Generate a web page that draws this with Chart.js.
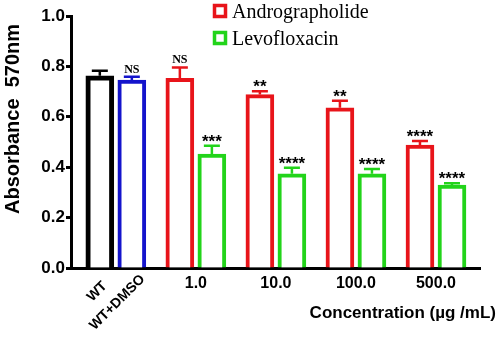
<!DOCTYPE html>
<html>
<head>
<meta charset="utf-8">
<script src="https://cdn.jsdelivr.net/npm/chart.js@4.4.1/dist/chart.umd.min.js"></script>
<style>
  html, body { margin: 0; padding: 0; background: #fff; }
</style>
</head>
<body>
<canvas id="grafico" width="498" height="337"></canvas>
<script>
// controles
const controles = ['WT', 'WT+DMSO'];
const controlX = [0, 2];
const controlMedia = [0.763, 0.746];
const controlError = [0.783, 0.759];
const controlSig = ['', 'NS'];

// tratamientos
const concentraciones = ['1.0', '10.0', '100.0', '500.0'];
const androX = [5, 10, 15, 20];
const levoX = [7, 12, 17, 22];
const androMedia = [0.753, 0.688, 0.636, 0.488];
const androError = [0.796, 0.701, 0.664, 0.504];
const androSig = ['NS', '**', '**', '****'];
const levoMedia = [0.452, 0.374, 0.374, 0.329];
const levoError = [0.485, 0.398, 0.393, 0.336];
const levoSig = ['***', '****', '****', '****'];

const yTicks = [0, 0.2, 0.4, 0.6, 0.8, 1.0];
const tituloY = 'Absorbance  570nm';
const tituloX = 'Concentration (\u00b5g /mL)';

const SANS = '"Liberation Sans", Arial, sans-serif';
const SERIF = '"Liberation Serif", "Times New Roman", serif';

function puntos(xs, ys) {
  return xs.map((x, i) => ({ x: x, y: ys[i] }));
}

const datasets = [
  { label: controles[0], data: puntos([controlX[0]], [controlMedia[0]]), borderColor: '#000000',
    errores: [controlError[0]], sig: [controlSig[0]], borderWidth: 5 },
  { label: controles[1], data: puntos([controlX[1]], [controlMedia[1]]), borderColor: '#1414cc',
    errores: [controlError[1]], sig: [controlSig[1]] },
  { label: 'Andrographolide', data: puntos(androX, androMedia), borderColor: '#e8141a',
    errores: androError, sig: androSig },
  { label: 'Levofloxacin', data: puntos(levoX, levoMedia), borderColor: '#22d41a',
    errores: levoError, sig: levoSig }
];
datasets.forEach(d => {
  d.backgroundColor = '#ffffff';
  if (!d.borderWidth) d.borderWidth = 4;
});

const extras = {
  id: 'extras',
  afterDatasetsDraw(chart) {
    const ctx = chart.ctx;
    const x = chart.scales.x, y = chart.scales.y;
    ctx.save();
    // barras de error y significancia
    chart.data.datasets.forEach(ds => {
      ds.data.forEach((p, i) => {
        const px = x.getPixelForValue(p.x);
        const top = y.getPixelForValue(p.y);
        const err = y.getPixelForValue(ds.errores[i]);
        ctx.strokeStyle = ds.borderColor;
        ctx.lineWidth = 2.5;
        ctx.beginPath();
        ctx.moveTo(px, top);
        ctx.lineTo(px, err);
        ctx.moveTo(px - 8, err);
        ctx.lineTo(px + 8, err);
        ctx.stroke();
        const s = ds.sig[i];
        if (!s) return;
        ctx.fillStyle = '#000';
        ctx.textAlign = 'center';
        ctx.textBaseline = 'alphabetic';
        if (s === 'NS') {
          ctx.font = 'bold 12px ' + SERIF;
          ctx.fillText(s, px, err - 4);
        } else {
          ctx.font = 'bold 17px ' + SANS;
          ctx.fillText(s, px, err + 1);
        }
      });
    });
    ctx.restore();
  },
  afterDraw(chart) {
    const ctx = chart.ctx;
    const x = chart.scales.x;
    const base = chart.chartArea.bottom;
    ctx.save();
    ctx.fillStyle = '#000';
    // etiquetas de controles (giradas)
    ctx.font = 'bold 14px ' + SANS;
    ctx.textAlign = 'right';
    ctx.textBaseline = 'middle';
    const offs = [[5, 16], [11, 9]];
    controles.forEach((c, i) => {
      ctx.save();
      ctx.translate(x.getPixelForValue(controlX[i]) + offs[i][0], base + offs[i][1]);
      ctx.rotate(-Math.PI / 4);
      ctx.fillText(c, 0, 0);
      ctx.restore();
    });
    // etiquetas de concentraciones
    ctx.font = 'bold 16px ' + SANS;
    ctx.textAlign = 'center';
    ctx.textBaseline = 'alphabetic';
    concentraciones.forEach((c, i) => {
      const px = (x.getPixelForValue(androX[i]) + x.getPixelForValue(levoX[i])) / 2;
      ctx.fillText(c, px, base + 20);
    });
    // titulo eje x
    ctx.font = 'bold 17px ' + SANS;
    ctx.textAlign = 'right';
    ctx.fillText(tituloX, 496, 318);
    // titulo eje y
    ctx.save();
    ctx.translate(19, 119);
    ctx.rotate(-Math.PI / 2);
    ctx.font = 'bold 20px ' + SANS;
    ctx.textAlign = 'center';
    ctx.fillText(tituloY, 0, 0);
    ctx.restore();
    // leyenda
    ctx.font = '20px ' + SERIF;
    ctx.textAlign = 'left';
    [2, 3].forEach((k, j) => {
      const ds = chart.data.datasets[k];
      const top = 4 + j * 27;
      ctx.strokeStyle = ds.borderColor;
      ctx.lineWidth = 3.5;
      ctx.strokeRect(214.5, top + 1.5, 11, 11);
      ctx.fillText(ds.label, 232, top + 13.5);
    });
    ctx.restore();
  }
};

const ctx = document.getElementById('grafico').getContext('2d');
new Chart(ctx, {
  type: 'bar',
  data: { datasets: datasets },
  options: {
    responsive: false,
    animation: false,
    layout: { padding: { top: 16, right: 18, bottom: 0, left: 0 } },
    datasets: {
      bar: { grouped: false, barThickness: 28 }
    },
    plugins: {
      legend: { display: false },
      tooltip: { enabled: false },
      title: { display: false }
    },
    scales: {
      x: {
        type: 'linear',
        offset: false,
        min: -1.8,
        max: 23.75,
        ticks: { display: false },
        grid: { display: false },
        border: { color: '#000', width: 3 },
        afterFit: s => { s.height = 69; }
      },
      y: {
        min: 0,
        max: 1,
        afterBuildTicks: s => { s.ticks = yTicks.map(v => ({ value: v })); },
        ticks: {
          color: '#000',
          padding: 1,
          font: { family: SANS, size: 17, weight: 'bold' },
          callback: v => v.toFixed(1)
        },
        grid: { drawOnChartArea: false, tickLength: 5, tickWidth: 3, tickColor: '#000' },
        border: { color: '#000', width: 3 },
        afterFit: s => { s.width = 71; }
      }
    }
  },
  plugins: [extras]
});
</script>
</body>
</html>
